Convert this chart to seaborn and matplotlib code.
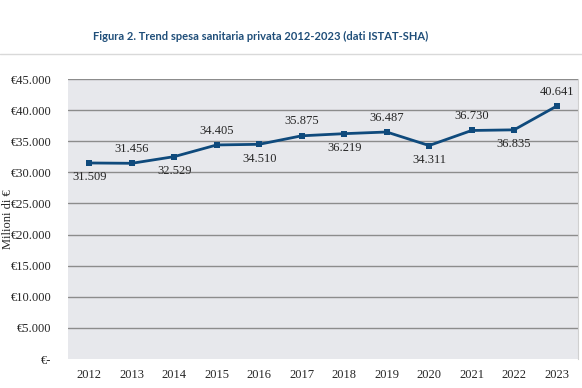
import matplotlib
matplotlib.use("Agg")
import matplotlib.pyplot as plt
import matplotlib.ticker as mticker
import seaborn as sns
import pandas as pd

years = [2012, 2013, 2014, 2015, 2016, 2017, 2018, 2019, 2020, 2021, 2022, 2023]
spesa = [31509, 31456, 32529, 34405, 34510, 35875, 36219, 36487, 34311, 36730, 36835, 40641]
label_above = [False, True, False, True, False, True, False, True, False, True, False, True]

title = "Figura 2. Trend spesa sanitaria privata 2012-2023 (dati ISTAT-SHA)"
y_label = "Milioni di €"

LINE_COLOR = "#0F4A7C"
TEXT_COLOR = "#262626"

sns.set_style("white")
plt.rcParams["font.family"] = ["Liberation Serif", "DejaVu Serif"]

df = pd.DataFrame({"anno": years, "spesa": spesa})

fig = plt.figure(figsize=(5.82, 3.88), dpi=100)
ax = fig.add_axes([0.1168, 0.0747, 0.876, 0.7216])
ax.set_facecolor("#E7E8EC")

for y in range(5000, 45001, 5000):
    ax.axhline(y, color="#8C8C8C", lw=1.0, zorder=1)

sns.lineplot(data=df, x="anno", y="spesa", ax=ax, color=LINE_COLOR, lw=2.0,
             marker="s", markersize=5, markeredgewidth=0, zorder=3)

for x, v, up in zip(years, spesa, label_above):
    txt = f"{v:,}".replace(",", ".")
    ax.annotate(txt, (x, v), xytext=(0, 6 if up else -6), textcoords="offset points",
                ha="center", va="bottom" if up else "top", fontsize=9, color=TEXT_COLOR)

ax.set_xlim(2011.5, 2023.5)
ax.set_ylim(0, 45000)
ax.set_xticks(years)
ax.set_yticks(range(0, 45001, 5000))
ax.yaxis.set_major_formatter(mticker.FuncFormatter(
    lambda v, p: "€-" if v == 0 else "€" + f"{int(v):,}".replace(",", ".")))
ax.tick_params(axis="both", length=0, labelsize=9, colors=TEXT_COLOR)
ax.tick_params(axis="y", pad=12)
ax.tick_params(axis="x", pad=7)
ax.set_xlabel("")
ax.set_ylabel("")
for s in ["top", "left", "bottom"]:
    ax.spines[s].set_visible(False)
ax.spines["right"].set_color("#D0D0D0")

fig.text(0.014, 0.436, y_label, rotation=90, ha="center", va="center",
         fontsize=9, color=TEXT_COLOR)

fig.text(0.447, 0.907, title, ha="center", va="center", fontsize=8,
         fontweight="bold", color="#1F4E79", family=["Lato", "DejaVu Sans"])
fig.add_artist(plt.Line2D([0, 1], [0.861, 0.861], color="#D9D9D9", lw=1,
                          transform=fig.transFigure))

fig.savefig("out.png", dpi=100)
